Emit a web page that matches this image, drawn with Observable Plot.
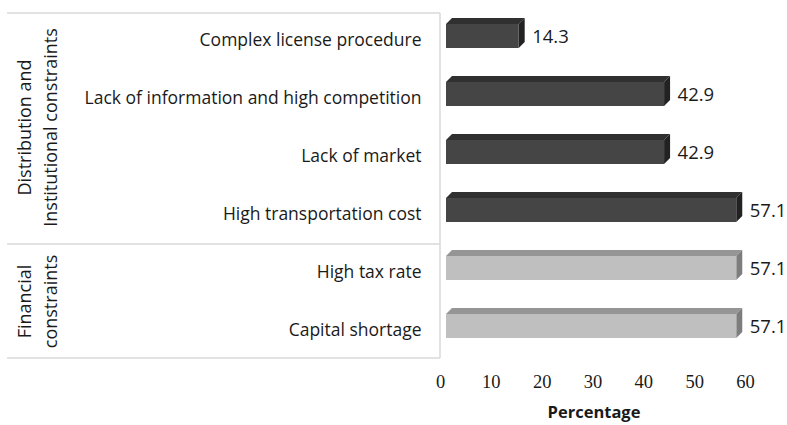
<!DOCTYPE html>
<html><head><meta charset="utf-8">
<script src="https://cdn.jsdelivr.net/npm/d3@7"></script>
<script src="https://cdn.jsdelivr.net/npm/@observablehq/plot@0.6"></script>
<style>body{margin:0;background:#fff;} svg{overflow:visible;}</style>
</head><body><div id="chart"></div>
<script>
const categories = [
  "Complex license procedure",
  "Lack of information and high competition",
  "Lack of market",
  "High transportation cost",
  "High tax rate",
  "Capital shortage"
];
const values = [14.3, 42.9, 42.9, 57.1, 57.1, 57.1];
const categoryGroups = ["dist", "dist", "dist", "dist", "fin", "fin"];
const groupKeys = ["dist", "fin"];
const groupLabels = ["Distribution and\nInstitutional constraints", "Financial\nconstraints"];
const groupAnchorCategory = ["Lack of information and high competition", "High tax rate"];
const xTicks = [0, 10, 20, 30, 40, 50, 60];
const xLabel = "Percentage";

const data = categories.map((c, i) => ({category: c, value: values[i], group: categoryGroups[i]}));
const groupData = groupKeys.map((g, i) => ({group: g, label: groupLabels[i], anchor: groupAnchorCategory[i]}));

const FONT = "Open Sans, sans-serif";
const chart = Plot.plot({
  width: 787,
  height: 425,
  marginLeft: 446,
  marginRight: 36,
  marginTop: 6,
  marginBottom: 70,
  style: {fontFamily: FONT, background: "#fff"},
  x: {domain: [0, 60], axis: null},
  y: {domain: categories, paddingInner: 0.59, paddingOuter: 0.295, axis: null},
  color: {domain: groupKeys, range: ["#454545", "#bfbfbf"]},
  marks: [
    Plot.barX(data, {x: "value", y: "category", fill: "group"}),
    Plot.text(data, {x: "value", y: "category", text: d => d.value.toFixed(1), textAnchor: "start", dx: 13, dy: 1, fontSize: 18.5, fill: "#1a1a1a"}),
    Plot.axisY({tickSize: 0, tickPadding: 25, fontSize: 17.5, dy: 4, fill: "#1a1a1a", label: null}),
    Plot.axisX({ticks: xTicks, tickSize: 0, tickPadding: 19, dx: -6, fontSize: 18.5, fontFamily: "Liberation Serif, serif", fill: "#1a1a1a", label: null}),
    Plot.text([xLabel], {frameAnchor: "bottom", dy: 62, dx: -5, fontWeight: "bold", fontSize: 16.5, fill: "#1a1a1a"}),
    Plot.text(groupData, {y: "anchor", text: "label", frameAnchor: "left", dx: -411, dy: 33, rotate: -90, textAnchor: "middle", lineAnchor: "middle", lineHeight: 1.45, fontSize: 18, fill: "#1a1a1a"})
  ]
});
document.getElementById("chart").appendChild(chart);

// 3D faces derived from the bars Plot drew
const depth = 6;
const faceColors = {"#454545": ["#303030", "#222222"], "#bfbfbf": ["#959595", "#7d7d7d"]};
d3.select(chart).selectAll('g[aria-label="bar"] rect').each(function() {
  const r = d3.select(this);
  const x = +r.attr("x"), y = +r.attr("y"), w = +r.attr("width"), h = +r.attr("height");
  const f = (r.attr("fill") || "").toLowerCase();
  const [top, side] = faceColors[f] || ["#333", "#222"];
  const parent = this.parentNode;
  const d = depth;
  const topPoly = document.createElementNS("http://www.w3.org/2000/svg", "polygon");
  topPoly.setAttribute("points", `${x},${y} ${x + d},${y - d} ${x + w + d},${y - d} ${x + w},${y}`);
  topPoly.setAttribute("fill", top);
  const sidePoly = document.createElementNS("http://www.w3.org/2000/svg", "polygon");
  sidePoly.setAttribute("points", `${x + w},${y} ${x + w + d},${y - d} ${x + w + d},${y + h - d} ${x + w},${y + h}`);
  sidePoly.setAttribute("fill", side);
  parent.insertBefore(topPoly, this);
  parent.insertBefore(sidePoly, this);
});

// table lines around the category labels, from the y scale
const ys = chart.scale("y");
const xs = chart.scale("x");
const step = ys.step, bw = ys.bandwidth;
const center = c => ys.apply(c) + bw / 2;
const shift = 5;
const left = 7, right = xs.apply(0) - 6;
const yTop = center(categories[0]) - step / 2 + shift + 1;
const yDiv = center(categories[3]) + step / 2 + shift;
const yBot = center(categories[5]) + step / 2 + shift - 2;
const g = d3.select(chart).insert("g", ":first-child").attr("stroke", "#d9d9d9").attr("stroke-width", 1.5).attr("fill", "none");
[yTop, yDiv, yBot].forEach(yy => g.append("line").attr("x1", left).attr("x2", right).attr("y1", yy).attr("y2", yy));
g.append("line").attr("x1", right).attr("x2", right).attr("y1", yTop).attr("y2", yBot);
</script>
</body></html>
